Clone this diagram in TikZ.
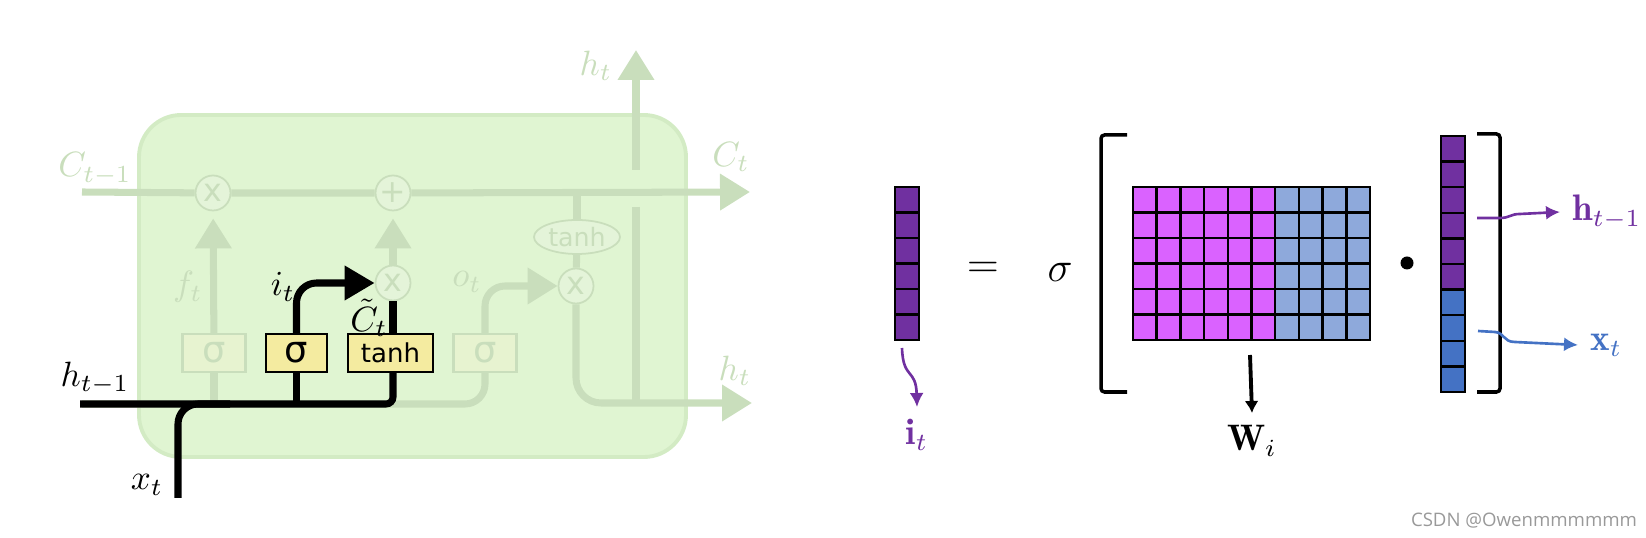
\documentclass[tikz,border=0pt]{standalone}
\usepackage{amsmath,amssymb}
\usepackage{fontspec}
\newfontfamily\gatefont{DejaVu Sans}
\newfontfamily\markfont{Open Sans}
\usetikzlibrary{arrows.meta,shapes.geometric}
\definecolor{fadeline}{RGB}{201,222,188}
\definecolor{cellfill}{RGB}{224,245,210}
\definecolor{cellrim}{RGB}{211,235,196}
\definecolor{fadegate}{RGB}{231,243,208}
\definecolor{opfill}{RGB}{228,244,217}
\definecolor{gateyellow}{RGB}{244,235,160}
\definecolor{vecpurple}{RGB}{112,48,160}
\definecolor{wpink}{RGB}{218,98,255}
\definecolor{wblue}{RGB}{142,169,219}
\definecolor{vecblue}{RGB}{68,114,196}

\begin{document}
\begin{tikzpicture}[x=1cm, y=-1cm, every node/.style={font=\fontsize{9.6}{11}\selectfont},
	fade/.style={draw=fadeline, line width=2pt},
	blk/.style={draw=black, line width=2pt},
	fadetip/.style={-{Triangle[length=3mm, width=3.5mm]}},
	blktip/.style={-{Triangle[length=3mm, width=3.3mm]}},
	fadelbl/.style={text=fadeline},
	gatebox/.style={draw, line width=0.6pt, minimum height=0.38cm, inner sep=0pt, font=\gatefont\fontsize{10.5}{11}\selectfont},
	opnode/.style={circle, draw=fadeline, fill=opfill, line width=0.5pt, minimum size=0.35cm, inner sep=0pt, text=fadeline, font=\gatefont\fontsize{9}{9}\selectfont},
	cellgrid/.style={draw=black, line width=0.7pt},
	vecarrow/.style={line width=0.75pt, -{Latex[length=1.4mm, width=1.4mm]}},
	big/.style={font=\fontsize{13}{15}\selectfont},
	vlabel/.style={font=\fontsize{10.5}{12}\selectfont}]
	\useasboundingbox (0,0) rectangle (16.46,5.38);

	% LSTM cell, faded part
	\draw[draw=cellrim, fill=cellfill, line width=1.1pt, rounded corners=0.42cm] (1.39,1.15) rectangle (6.86,4.57);
	\node[opnode] (fx) at (2.13,1.93) {x};
	\node[opnode] (plus) at (3.93,1.93) {+};
	\node[opnode] (ix) at (3.93,2.83) {x};
	\node[opnode] (ox) at (5.76,2.86) {x};
	\node[opnode, ellipse, minimum width=0.86cm, minimum height=0.34cm, font=\gatefont\fontsize{7.2}{8}\selectfont] (tanhc) at (5.77,2.37) {tanh};
	\node[gatebox, draw=fadeline, fill=fadegate, text=fadeline, minimum width=0.63cm] (fsig) at (2.14,3.53) {σ};
	\node[gatebox, draw=fadeline, fill=fadegate, text=fadeline, minimum width=0.63cm] (osig) at (4.85,3.53) {σ};

	\draw[fade, fadetip] (0.82,1.92) -- (fx) -- (plus) -- (7.50,1.92);
	\draw[fade] (fsig.south) -- ++(0,0.32);
	\draw[fade, fadetip, shorten >=2pt] (fsig) -- (fx);
	\draw[fade, fadetip, shorten >=2pt] (ix) -- (plus);
	\draw[fade, rounded corners=0.2cm] (0.82,4.04) -| (osig.south);
	\draw[fade, fadetip, rounded corners=0.2cm] (osig.north) |- (ox.west);
	\draw[fade] (5.77,1.92) -- (tanhc);
	\draw[fade] (tanhc) -- (ox);
	\draw[fade, fadetip, rounded corners=0.25cm] (ox.south) |- (7.52,4.03);
	\draw[fade] (6.36,2.07) -- (6.36,4.03);
	\draw[fade, fadetip] (6.36,1.70) -- (6.36,0.50);

	\node[fadelbl] (ctm1) at (0.95,1.69) {$C_{t-1}$};
	\node[fadelbl] (ct) at (7.31,1.57) {$C_t$};
	\node[fadelbl] (htup) at (5.96,0.66) {$h_t$};
	\node[fadelbl] (htr) at (7.35,3.71) {$h_t$};
	\node[fadelbl] (ft) at (1.88,2.87) {$f_t$};
	\node[fadelbl] (ot) at (4.67,2.82) {$o_t$};

	% input gate, highlighted
	\node[gatebox, fill=gateyellow, minimum width=0.61cm] (isig) at (2.965,3.53) {σ};
	\node[gatebox, fill=gateyellow, minimum width=0.85cm, font=\gatefont\fontsize{7.4}{8}\selectfont] (itanh) at (3.905,3.53) {tanh};
	\draw[blk, rounded corners=2pt] (0.80,4.04) -| (itanh.south -| ix);
	\draw[blk] (isig.south) -- ++(0,0.32);
	\draw[blk, rounded corners=0.2cm] (1.78,4.98) |- (2.3,4.04);
	\draw[blk, blktip, rounded corners=0.2cm] (isig.north) |- (ix.west);
	\draw[blk] (ix) -- (ix |- itanh.north);

	\node (itl) at (2.83,2.87) {$i_t$};
	\node[inner sep=0.5pt] (ctl) at (3.69,3.18) {$\tilde{C}_t$};
	\node (htm1) at (0.95,3.78) {$h_{t-1}$};
	\node (xtl) at (1.47,4.85) {$x_t$};

	% i_t = sigma(W_i [h_{t-1}, x_t])
	\foreach \r in {0,...,5}
		\draw[cellgrid, fill=vecpurple] (8.95,1.87+\r*0.255) rectangle ++(0.24,0.255);
	\foreach \c in {0,...,9} {
		\ifnum\c<6 \def\wcol{wpink}\else\def\wcol{wblue}\fi
		\foreach \r in {0,...,5}
			\draw[cellgrid, fill=\wcol] (11.33+\c*0.237,1.87+\r*0.255) rectangle ++(0.237,0.255);
	}
	\foreach \r in {0,...,9} {
		\ifnum\r<6 \def\vcol{vecpurple}\else\def\vcol{vecblue}\fi
		\draw[cellgrid, fill=\vcol] (14.41,1.36+\r*0.256) rectangle ++(0.24,0.256);
	}

	\node[big] (eq) at (9.83,2.70) {$=$};
	\node[big] (sg) at (10.60,2.72) {$\sigma$};
	\node[circle, fill=black, inner sep=0pt, minimum size=0.13cm] (dot) at (14.07,2.63) {};
	\draw[line width=1pt, rounded corners=1pt] (11.27,1.35) -- (11.01,1.35) -- (11.01,3.92) -- (11.27,3.92);
	\draw[line width=1pt, rounded corners=1pt] (14.77,1.34) -- (15.00,1.34) -- (15.00,3.92) -- (14.77,3.92);

	\node[vlabel, text=vecpurple] (itv) at (9.17,4.35) {$\mathbf{i}_t$};
	\node[vlabel] (wil) at (12.52,4.41) {$\mathbf{W}_i$};
	\node[vlabel, text=vecpurple, anchor=west] (hl) at (15.60,2.12) {$\mathbf{h}_{t-1}$};
	\node[vlabel, text=vecblue, anchor=west] (xl) at (15.78,3.45) {$\mathbf{x}_t$};

	\coordinate (itfrom) at (9.02,3.48);
	\coordinate (wfrom) at (12.50,3.55);
	\coordinate (hfrom) at (14.77,2.18);
	\coordinate (xfrom) at (14.78,3.31);
	\draw[vecarrow, vecpurple] (itfrom) .. controls (9.03,3.80) and (9.16,3.68) .. (itv.north);
	\draw[line width=1.1pt, -{Latex[length=1.2mm, width=1.4mm]}] (wfrom) -- (wil.north);
	\draw[vecarrow, vecpurple] (hfrom) -- (15.0,2.18) .. controls (15.1,2.18) and (15.1,2.14) .. (15.2,2.14) -- (hl.west);
	\draw[vecarrow, vecblue] (xfrom) -- (14.95,3.32) .. controls (15.05,3.33) and (15.03,3.42) .. (15.15,3.42) -- (xl.west);

	\node[text=black!40, font=\markfont\fontsize{5.3}{6}\selectfont] (mark) at (15.24,5.21) {CSDN @Owenmmmmmm};
\end{tikzpicture}
\end{document}
